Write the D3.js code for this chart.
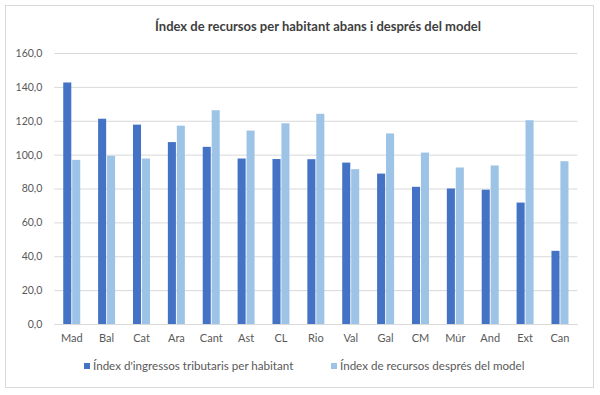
<!DOCTYPE html>
<html><head><meta charset="utf-8">
<script src="https://cdn.jsdelivr.net/npm/d3@7"></script>
<style>body{margin:0;background:#fff}svg{display:block}</style>
</head><body>
<svg id="c" width="600" height="395"></svg>
<script>
const categories = ["Mad","Bal","Cat","Ara","Cant","Ast","CL","Rio","Val","Gal","CM","Múr","And","Ext","Can"];
const ingressos = [142.6,121.2,117.7,107.4,104.6,97.7,97.4,97.3,95.3,88.8,81.0,80.0,79.3,71.7,43.2];
const recursos  = [96.9,99.3,97.7,117.1,126.2,114.2,118.5,124.1,91.4,112.5,101.2,92.4,93.6,120.3,96.1];
const seriesNames = ["Índex d'ingressos tributaris per habitant","Índex de recursos després del model"];
const yTicks = [0,20,40,60,80,100,120,140,160];
const title = "Índex de recursos per habitant abans i després del model";

const colors = ["#4472C4","#9DC3E6"];
const font = "Lato, 'Open Sans', sans-serif";
const svg = d3.select("#c");
svg.append("rect").attr("x",5.5).attr("y",5.5).attr("width",588).attr("height",382)
  .attr("fill","#fff").attr("stroke","#d9d9d9");

const m = {l:54.3, r:577.4, t:53, b:324};
const x = d3.scaleBand().domain(categories).range([m.l,m.r]).paddingInner(0).paddingOuter(0);
const y = d3.scaleLinear().domain([0,160]).range([m.b,m.t]);

const yAxis = d3.axisLeft(y).tickValues(yTicks).tickSize(-(m.r-m.l)).tickPadding(12)
  .tickFormat(d=>d3.format(".1f")(d).replace(".",","));
const gy = svg.append("g").attr("transform",`translate(${m.l},0)`).call(yAxis);
gy.select(".domain").remove();
gy.selectAll(".tick line").attr("stroke","#d9d9d9");
gy.selectAll(".tick text").attr("fill","#595959").style("font-family",font).style("font-size","10.5px");

const xAxis = d3.axisBottom(x).tickSize(0).tickPadding(10);
const gx = svg.append("g").attr("transform",`translate(0,${m.b})`).call(xAxis);
gx.select(".domain").attr("stroke","#d9d9d9");
gx.selectAll(".tick text").attr("fill","#595959").style("font-family",font).style("font-size","11px");

const inner = d3.scaleBand().domain([0,1]).range([0,17]).paddingInner(0.1);
const groupOff = (x.bandwidth()-17)/2;
const data = [ingressos, recursos];
data.forEach((vals,si)=>{
  svg.append("g").selectAll("rect").data(categories).join("rect")
    .attr("x",(d)=>x(d)+groupOff+inner(si))
    .attr("width",inner.bandwidth())
    .attr("y",(d,i)=>y(vals[i]))
    .attr("height",(d,i)=>y(0)-y(vals[i]))
    .attr("fill",colors[si]);
});

svg.append("text").attr("x",318).attr("y",31).attr("text-anchor","middle")
  .attr("fill","#404040").style("font-family",font).style("font-size","13px").style("font-weight","bold")
  .text(title);

const leg = [{x:84,label:seriesNames[0]},{x:331,label:seriesNames[1]}];
leg.forEach((l,i)=>{
  svg.append("rect").attr("x",l.x).attr("y",363).attr("width",6).attr("height",6).attr("fill",colors[i]);
  svg.append("text").attr("x",l.x+9).attr("y",370).attr("fill","#595959")
    .style("font-family",font).style("font-size","11.6px").text(l.label);
});
</script>
</body></html>
